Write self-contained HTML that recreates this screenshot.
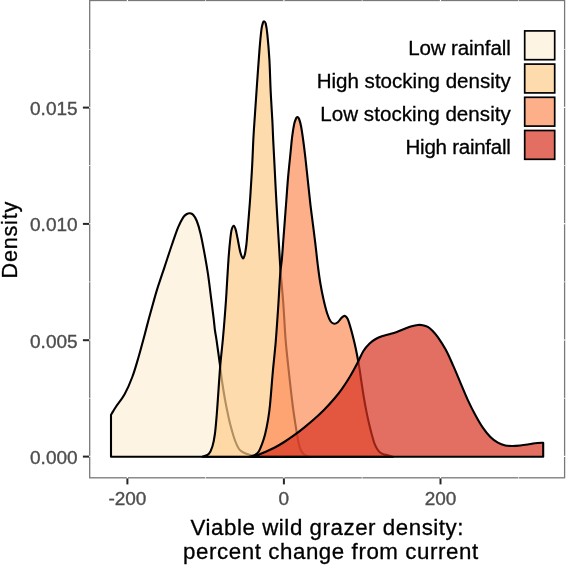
<!DOCTYPE html><html><head><meta charset="utf-8"><title>Density plot</title><style>html,body{margin:0;padding:0;background:#fff;}body{width:566px;height:565px;position:relative;overflow:hidden;font-family:"Liberation Sans",Arial,sans-serif;}</style></head><body><svg width="566" height="565" viewBox="0 0 566 565" style="position:absolute;left:0;top:0">
<rect x="0" y="0" width="566" height="565" fill="#fff"/>
<path d="M111.00,456.7L111.00,414.80C111.12,414.62 110.90,415.00 111.70,413.70C112.50,412.40 113.65,410.23 115.80,407.00C117.95,403.77 121.85,399.30 124.60,394.30C127.35,389.30 129.98,383.18 132.30,377.00C134.62,370.82 136.45,364.22 138.50,357.20C140.55,350.18 142.93,341.10 144.60,334.90C146.27,328.70 147.07,325.32 148.50,320.00C149.93,314.68 151.75,308.15 153.20,303.00C154.65,297.85 155.30,295.13 157.20,289.10C159.10,283.07 162.13,274.23 164.60,266.80C167.07,259.37 169.73,251.10 172.00,244.50C174.27,237.90 176.33,231.73 178.20,227.20C180.07,222.67 181.75,219.50 183.20,217.30C184.65,215.10 185.78,214.67 186.90,214.00C188.02,213.33 188.87,213.17 189.90,213.30C190.93,213.43 191.95,213.52 193.10,214.80C194.25,216.08 195.57,217.90 196.80,221.00C198.03,224.10 199.27,228.25 200.50,233.40C201.73,238.55 202.95,245.10 204.20,251.90C205.45,258.70 206.83,266.35 208.00,274.20C209.17,282.05 210.25,291.57 211.20,299.00C212.15,306.43 213.08,313.63 213.70,318.80C214.32,323.97 214.43,326.50 214.90,330.00C215.37,333.50 215.70,334.30 216.50,339.80C217.30,345.30 218.78,356.13 219.70,363.00C220.62,369.87 221.12,374.92 222.00,381.00C222.88,387.08 223.92,393.50 225.00,399.50C226.08,405.50 227.47,412.25 228.50,417.00C229.53,421.75 230.12,424.08 231.20,428.00C232.28,431.92 233.70,437.00 235.00,440.50C236.30,444.00 237.60,447.00 239.00,449.00C240.40,451.00 241.43,451.45 243.40,452.50C245.37,453.55 248.53,454.60 250.80,455.30C253.07,456.00 255.97,456.47 257.00,456.70Z" fill="#FEF0D9" fill-opacity="0.7" stroke="#000" stroke-width="2.1" stroke-linejoin="round"/>
<path d="M202.50,456.70C203.53,456.25 207.05,455.70 208.70,454.00C210.35,452.30 211.37,449.83 212.40,446.50C213.43,443.17 214.17,439.42 214.90,434.00C215.63,428.58 216.20,421.33 216.80,414.00C217.40,406.67 217.92,398.17 218.50,390.00C219.08,381.83 219.58,373.33 220.30,365.00C221.02,356.67 222.10,347.50 222.80,340.00C223.50,332.50 223.97,326.67 224.50,320.00C225.03,313.33 225.55,306.67 226.00,300.00C226.45,293.33 226.73,287.50 227.20,280.00C227.67,272.50 228.27,262.00 228.80,255.00C229.33,248.00 229.92,242.25 230.40,238.00C230.88,233.75 231.13,231.55 231.70,229.50C232.27,227.45 233.13,225.68 233.80,225.70C234.47,225.72 235.08,227.55 235.70,229.60C236.32,231.65 236.75,234.32 237.50,238.00C238.25,241.68 239.33,248.33 240.20,251.70C241.07,255.07 241.95,257.65 242.70,258.20C243.45,258.75 244.08,257.28 244.70,255.00C245.32,252.72 245.97,248.00 246.40,244.50C246.83,241.00 247.02,237.30 247.30,234.00C247.58,230.70 247.67,230.03 248.10,224.70C248.53,219.37 249.47,207.78 249.90,202.00C250.33,196.22 250.32,196.17 250.70,190.00C251.08,183.83 251.77,173.33 252.20,165.00C252.63,156.67 252.87,148.08 253.30,140.00C253.73,131.92 254.18,125.78 254.80,116.50C255.42,107.22 256.22,95.45 257.00,84.30C257.78,73.15 258.77,58.68 259.50,49.60C260.23,40.52 260.83,34.25 261.40,29.80C261.97,25.35 262.43,24.30 262.90,22.90C263.37,21.50 263.73,21.28 264.20,21.40C264.67,21.52 265.17,21.37 265.70,23.60C266.23,25.83 266.78,28.80 267.40,34.80C268.02,40.80 268.85,50.10 269.40,59.60C269.95,69.10 270.20,81.48 270.70,91.80C271.20,102.12 271.98,113.47 272.40,121.50C272.82,129.53 272.85,132.75 273.20,140.00C273.55,147.25 274.03,155.92 274.50,165.00C274.97,174.08 275.47,184.67 276.00,194.50C276.53,204.33 277.17,214.92 277.70,224.00C278.23,233.08 278.73,241.33 279.20,249.00C279.67,256.67 279.83,261.13 280.50,270.00C281.17,278.87 282.35,290.58 283.20,302.20C284.05,313.82 284.80,329.40 285.60,339.70C286.40,350.00 287.20,356.28 288.00,364.00C288.80,371.72 289.58,378.83 290.40,386.00C291.22,393.17 292.07,400.63 292.90,407.00C293.73,413.37 294.57,418.85 295.40,424.20C296.23,429.55 297.08,434.97 297.90,439.10C298.72,443.23 299.27,446.43 300.30,449.00C301.33,451.57 302.65,453.22 304.10,454.50C305.55,455.78 308.18,456.33 309.00,456.70Z" fill="#FDCC8A" fill-opacity="0.7" stroke="#000" stroke-width="2.1" stroke-linejoin="round"/>
<path d="M249.60,456.70C250.42,456.45 252.97,456.07 254.50,455.20C256.03,454.33 257.55,453.35 258.80,451.50C260.05,449.65 260.95,446.98 262.00,444.10C263.05,441.22 264.08,438.33 265.10,434.20C266.12,430.07 267.28,424.17 268.10,419.30C268.92,414.43 269.22,412.88 270.00,405.00C270.78,397.12 271.85,382.50 272.80,372.00C273.75,361.50 274.80,352.83 275.70,342.00C276.60,331.17 277.45,318.33 278.20,307.00C278.95,295.67 279.58,282.02 280.20,274.00C280.82,265.98 281.37,264.72 281.90,258.90C282.43,253.08 282.90,245.70 283.40,239.10C283.90,232.50 284.40,225.90 284.90,219.30C285.40,212.70 285.87,206.52 286.40,199.50C286.93,192.48 287.42,184.95 288.10,177.20C288.78,169.45 289.82,159.80 290.50,153.00C291.18,146.20 291.58,141.23 292.20,136.40C292.82,131.57 293.55,127.02 294.20,124.00C294.85,120.98 295.57,119.47 296.10,118.30C296.63,117.13 296.90,116.88 297.40,117.00C297.90,117.12 298.48,117.42 299.10,119.00C299.72,120.58 300.43,123.08 301.10,126.50C301.77,129.92 302.40,134.42 303.10,139.50C303.80,144.58 304.48,149.90 305.30,157.00C306.12,164.10 307.15,174.20 308.00,182.10C308.85,190.00 309.58,197.38 310.40,204.40C311.22,211.42 312.07,217.58 312.90,224.20C313.73,230.82 314.57,237.13 315.40,244.10C316.23,251.07 317.08,259.52 317.90,266.00C318.72,272.48 319.35,277.37 320.30,283.00C321.25,288.63 322.45,294.72 323.60,299.80C324.75,304.88 326.02,309.88 327.20,313.50C328.38,317.12 329.53,319.80 330.70,321.50C331.87,323.20 333.02,323.58 334.20,323.70C335.38,323.82 336.57,323.18 337.80,322.20C339.03,321.22 340.45,318.85 341.60,317.80C342.75,316.75 343.68,315.70 344.70,315.90C345.72,316.10 346.63,316.72 347.70,319.00C348.77,321.28 349.98,325.67 351.10,329.60C352.22,333.53 353.38,338.25 354.40,342.60C355.42,346.95 356.33,351.23 357.20,355.70C358.07,360.17 358.87,364.85 359.60,369.40C360.33,373.95 360.88,378.28 361.60,383.00C362.32,387.72 363.08,392.88 363.90,397.70C364.72,402.52 365.62,407.48 366.50,411.90C367.38,416.32 368.30,420.37 369.20,424.20C370.10,428.03 371.02,431.65 371.90,434.90C372.78,438.15 373.62,441.35 374.50,443.70C375.38,446.05 376.32,447.58 377.20,449.00C378.08,450.42 378.77,451.32 379.80,452.20C380.83,453.08 382.07,453.80 383.40,454.30C384.73,454.80 386.20,454.80 387.80,455.20C389.40,455.60 392.13,456.45 393.00,456.70Z" fill="#FC8D59" fill-opacity="0.7" stroke="#000" stroke-width="2.1" stroke-linejoin="round"/>
<path d="M253.30,456.70C253.92,456.45 255.15,455.93 257.00,455.20C258.85,454.47 261.52,453.53 264.40,452.30C267.28,451.07 271.00,449.52 274.30,447.80C277.60,446.08 280.88,444.10 284.20,442.00C287.52,439.90 290.88,437.60 294.20,435.20C297.52,432.80 300.80,430.25 304.10,427.60C307.40,424.95 310.70,422.23 314.00,419.30C317.30,416.37 320.57,413.38 323.90,410.00C327.23,406.62 330.98,402.53 334.00,399.00C337.02,395.47 339.33,392.55 342.00,388.80C344.67,385.05 347.47,380.72 350.00,376.50C352.53,372.28 354.97,367.75 357.20,363.50C359.43,359.25 361.33,354.35 363.40,351.00C365.47,347.65 367.55,345.40 369.60,343.40C371.65,341.40 373.65,340.20 375.70,339.00C377.75,337.80 379.62,337.00 381.90,336.20C384.18,335.40 386.92,334.92 389.40,334.20C391.88,333.48 394.33,332.78 396.80,331.90C399.27,331.02 401.72,329.85 404.20,328.90C406.68,327.95 409.42,326.85 411.70,326.20C413.98,325.55 416.05,325.17 417.90,325.00C419.75,324.83 421.15,324.90 422.80,325.20C424.45,325.50 426.23,325.92 427.80,326.80C429.37,327.68 430.50,328.75 432.20,330.50C433.90,332.25 435.73,334.08 438.00,337.30C440.27,340.52 443.25,345.03 445.80,349.80C448.35,354.57 450.82,360.32 453.30,365.90C455.78,371.48 458.23,377.52 460.70,383.30C463.17,389.08 465.62,395.23 468.10,400.60C470.58,405.97 473.12,410.95 475.60,415.50C478.08,420.05 480.53,424.32 483.00,427.90C485.47,431.48 487.92,434.53 490.40,437.00C492.88,439.47 495.42,441.28 497.90,442.70C500.38,444.12 502.83,444.95 505.30,445.50C507.77,446.05 510.22,446.00 512.70,446.00C515.18,446.00 517.72,445.75 520.20,445.50C522.68,445.25 525.13,444.88 527.60,444.50C530.07,444.12 532.40,443.50 535.00,443.20C537.60,442.90 541.83,442.78 543.20,442.70L543.20,456.7Z" fill="#D7301F" fill-opacity="0.7" stroke="#000" stroke-width="2.1" stroke-linejoin="round"/>
<rect x="89.7" y="0.5" width="474.90000000000003" height="477.3" fill="none" stroke="#787878" stroke-width="1.3"/>
<rect x="126.80000000000001" y="-0.5" width="1.2" height="2" fill="#fff"/><rect x="126.80000000000001" y="476.8" width="1.2" height="2" fill="#fff"/>
<rect x="283.29999999999995" y="-0.5" width="1.2" height="2" fill="#fff"/><rect x="283.29999999999995" y="476.8" width="1.2" height="2" fill="#fff"/>
<rect x="439.9" y="-0.5" width="1.2" height="2" fill="#fff"/><rect x="439.9" y="476.8" width="1.2" height="2" fill="#fff"/>
<rect x="205.15" y="-0.5" width="0.7" height="2" fill="#fff"/><rect x="205.15" y="476.8" width="0.7" height="2" fill="#fff"/>
<rect x="361.75" y="-0.5" width="0.7" height="2" fill="#fff"/><rect x="361.75" y="476.8" width="0.7" height="2" fill="#fff"/>
<rect x="518.35" y="-0.5" width="0.7" height="2" fill="#fff"/><rect x="518.35" y="476.8" width="0.7" height="2" fill="#fff"/>
<rect x="88.7" y="455.79999999999995" width="2" height="1.2" fill="#fff"/><rect x="563.6" y="455.79999999999995" width="2" height="1.2" fill="#fff"/>
<rect x="88.7" y="339.4" width="2" height="1.2" fill="#fff"/><rect x="563.6" y="339.4" width="2" height="1.2" fill="#fff"/>
<rect x="88.7" y="223.1" width="2" height="1.2" fill="#fff"/><rect x="563.6" y="223.1" width="2" height="1.2" fill="#fff"/>
<rect x="88.7" y="106.80000000000001" width="2" height="1.2" fill="#fff"/><rect x="563.6" y="106.80000000000001" width="2" height="1.2" fill="#fff"/>
<rect x="88.7" y="397.84999999999997" width="2" height="0.7" fill="#fff"/><rect x="563.6" y="397.84999999999997" width="2" height="0.7" fill="#fff"/>
<rect x="88.7" y="281.54999999999995" width="2" height="0.7" fill="#fff"/><rect x="563.6" y="281.54999999999995" width="2" height="0.7" fill="#fff"/>
<rect x="88.7" y="165.25" width="2" height="0.7" fill="#fff"/><rect x="563.6" y="165.25" width="2" height="0.7" fill="#fff"/>
<rect x="88.7" y="48.949999999999996" width="2" height="0.7" fill="#fff"/><rect x="563.6" y="48.949999999999996" width="2" height="0.7" fill="#fff"/>
<line x1="127.4" x2="127.4" y1="478.40000000000003" y2="484.40000000000003" stroke="#262626" stroke-width="2"/>
<line x1="283.9" x2="283.9" y1="478.40000000000003" y2="484.40000000000003" stroke="#262626" stroke-width="2"/>
<line x1="440.5" x2="440.5" y1="478.40000000000003" y2="484.40000000000003" stroke="#262626" stroke-width="2"/>
<line x1="82.9" x2="89.10000000000001" y1="456.59999999999997" y2="456.59999999999997" stroke="#262626" stroke-width="2"/>
<line x1="82.9" x2="89.10000000000001" y1="340.2" y2="340.2" stroke="#262626" stroke-width="2"/>
<line x1="82.9" x2="89.10000000000001" y1="223.89999999999998" y2="223.89999999999998" stroke="#262626" stroke-width="2"/>
<line x1="82.9" x2="89.10000000000001" y1="107.60000000000001" y2="107.60000000000001" stroke="#262626" stroke-width="2"/>
<text x="127.4" y="504.8" text-anchor="middle" font-family="Liberation Sans, Arial, sans-serif" font-size="19" fill="#4d4d4d" stroke="#4d4d4d" stroke-width="0.35">-200</text>
<text x="283.9" y="504.8" text-anchor="middle" font-family="Liberation Sans, Arial, sans-serif" font-size="19" fill="#4d4d4d" stroke="#4d4d4d" stroke-width="0.35">0</text>
<text x="440.5" y="504.8" text-anchor="middle" font-family="Liberation Sans, Arial, sans-serif" font-size="19" fill="#4d4d4d" stroke="#4d4d4d" stroke-width="0.35">200</text>
<text x="77.6" y="463.9" text-anchor="end" font-family="Liberation Sans, Arial, sans-serif" font-size="19" fill="#4d4d4d" stroke="#4d4d4d" stroke-width="0.35">0.000</text>
<text x="77.6" y="347.5" text-anchor="end" font-family="Liberation Sans, Arial, sans-serif" font-size="19" fill="#4d4d4d" stroke="#4d4d4d" stroke-width="0.35">0.005</text>
<text x="77.6" y="231.2" text-anchor="end" font-family="Liberation Sans, Arial, sans-serif" font-size="19" fill="#4d4d4d" stroke="#4d4d4d" stroke-width="0.35">0.010</text>
<text x="77.6" y="114.9" text-anchor="end" font-family="Liberation Sans, Arial, sans-serif" font-size="19" fill="#4d4d4d" stroke="#4d4d4d" stroke-width="0.35">0.015</text>
<text x="190.6" y="534.8" font-family="Liberation Sans, Arial, sans-serif" font-size="22.3" letter-spacing="0.55" fill="#000" stroke="#000" stroke-width="0.3">Viable wild grazer density:</text>
<text x="183" y="559.1" font-family="Liberation Sans, Arial, sans-serif" font-size="22.3" letter-spacing="0.58" fill="#000" stroke="#000" stroke-width="0.3">percent change from current</text>
<text transform="translate(17.2,278.5) rotate(-90)" font-family="Liberation Sans, Arial, sans-serif" font-size="21.6" letter-spacing="0.8" fill="#000" stroke="#000" stroke-width="0.3">Density</text>
<rect x="524.7" y="30.9" width="30" height="28.8" fill="#FEF0D9" fill-opacity="0.7" stroke="#000" stroke-width="1.7"/>
<text x="510.68" y="54.6" text-anchor="end" font-family="Liberation Sans, Arial, sans-serif" font-size="20.55" letter-spacing="-0.12" fill="#000" stroke="#000" stroke-width="0.3">Low rainfall</text>
<rect x="524.7" y="64.1" width="30" height="28.8" fill="#FDCC8A" fill-opacity="0.7" stroke="#000" stroke-width="1.7"/>
<text x="510.80" y="87.8" text-anchor="end" font-family="Liberation Sans, Arial, sans-serif" font-size="20.55" letter-spacing="0" fill="#000" stroke="#000" stroke-width="0.3">High stocking density</text>
<rect x="524.7" y="97.3" width="30" height="28.8" fill="#FC8D59" fill-opacity="0.7" stroke="#000" stroke-width="1.7"/>
<text x="510.85" y="121.0" text-anchor="end" font-family="Liberation Sans, Arial, sans-serif" font-size="20.55" letter-spacing="0.05" fill="#000" stroke="#000" stroke-width="0.3">Low stocking density</text>
<rect x="524.7" y="130.5" width="30" height="28.8" fill="#D7301F" fill-opacity="0.7" stroke="#000" stroke-width="1.7"/>
<text x="510.53" y="154.2" text-anchor="end" font-family="Liberation Sans, Arial, sans-serif" font-size="20.55" letter-spacing="-0.27" fill="#000" stroke="#000" stroke-width="0.3">High rainfall</text>
</svg></body></html>
